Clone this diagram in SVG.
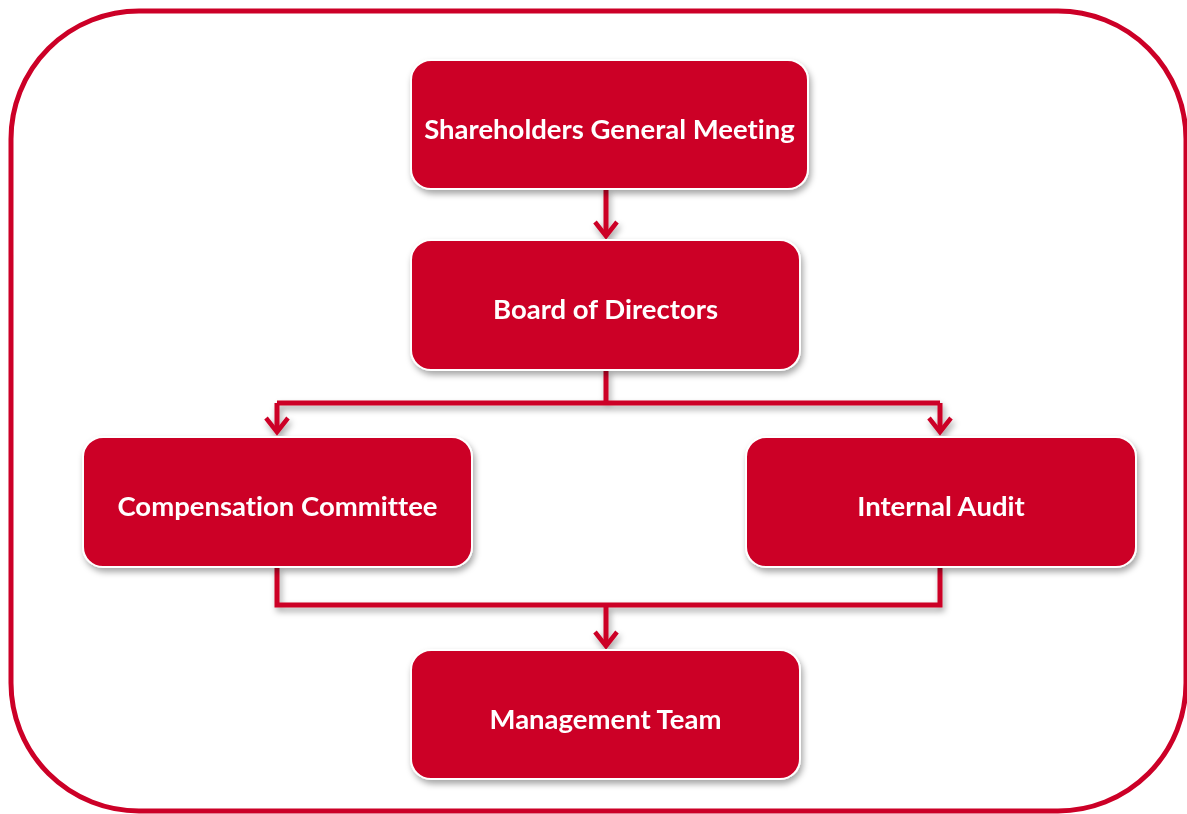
<svg xmlns="http://www.w3.org/2000/svg" width="1187" height="814" viewBox="0 0 1187 814">
  <style>
    .box { fill: #cc0027; stroke: #ffffff; stroke-width: 2; }
    .label { fill: #ffffff; font-family: Lato, "Open Sans", "Liberation Sans", sans-serif; font-weight: bold; font-size: 27.5px; text-anchor: middle; dominant-baseline: central; font-variant-ligatures: none; }
    .wire { fill: none; stroke: #cc0027; stroke-width: 5; }
    .head { fill: none; stroke: #cc0027; stroke-width: 4.5; }
    .frame { fill: none; stroke: #cc0027; stroke-width: 5; }
  </style>
  <defs>
    <filter id="shadow" x="-10%" y="-10%" width="125%" height="130%">
      <feDropShadow dx="2" dy="4" stdDeviation="3" flood-color="#000000" flood-opacity="0.35"/>
    </filter>
  </defs>

  <!-- outer frame -->
  <rect class="frame" x="11" y="11" width="1175" height="800" rx="128" ry="128"/>

  <g id="connectors" filter="url(#shadow)">
    <path class="wire" d="M606 189 V236"/>
    <path class="head" d="M595 222 L606 236 L617 222"/>
    <path class="wire" d="M606 370 V403 M277 403 H940 M277 403 V432 M940 403 V432"/>
    <path class="head" d="M266 418 L277 432 L288 418"/>
    <path class="head" d="M929 418 L940 432 L951 418"/>
    <path class="wire" d="M277 567 V605 H940 V567 M606 605 V646"/>
    <path class="head" d="M595 632 L606 646 L617 632"/>
  </g>

  <g id="shareholders" filter="url(#shadow)">
    <rect class="box" x="411" y="60" width="397" height="129" rx="20"/>
    <text class="label" x="609.5" y="128">Shareholders General Meeting</text>
  </g>
  <g id="board" filter="url(#shadow)">
    <rect class="box" x="411" y="240" width="389" height="130" rx="20"/>
    <text class="label" x="605.5" y="308">Board of Directors</text>
  </g>
  <g id="compensation" filter="url(#shadow)">
    <rect class="box" x="83" y="437" width="389" height="130" rx="20"/>
    <text class="label" x="277.5" y="505">Compensation Committee</text>
  </g>
  <g id="audit" filter="url(#shadow)">
    <rect class="box" x="746" y="437" width="390" height="130" rx="20"/>
    <text class="label" x="941" y="505">Internal Audit</text>
  </g>
  <g id="management" filter="url(#shadow)">
    <rect class="box" x="411" y="650" width="389" height="129" rx="20"/>
    <text class="label" x="605.5" y="718">Management Team</text>
  </g>
</svg>
